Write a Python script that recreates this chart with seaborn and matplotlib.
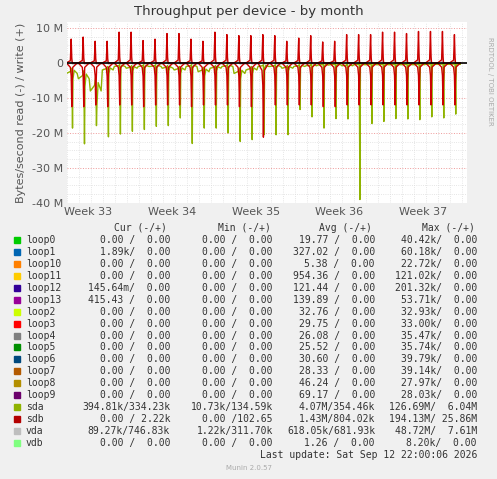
import numpy as np
import pandas as pd
import matplotlib
matplotlib.use('Agg')
import matplotlib.pyplot as plt
import seaborn as sns

# daily spike peaks (units: MB/s)
spike_days = [0.4, 1.4, 2.4, 3.4, 4.4, 5.4, 6.4, 7.4, 8.4, 9.4, 10.4, 11.4, 12.4, 13.4, 14.4, 15.4, 16.4,
              17.4, 18.4, 19.4, 20.4, 21.4, 22.4, 23.4, 24.4, 25.4, 26.4, 27.4, 28.4, 29.4, 30.4, 31.4, 32.4]
sdb_write = [6.8, 7.4, 6.2, 6.2, 8.8, 8.8, 6.4, 6.8, 8.4, 8.4, 6.8, 6.2, 8.8, 8.1, 7.8, 7.8, 8.1,
             7.8, 6.2, 7.1, 7.8, 6.0, 6.2, 8.1, 8.1, 8.1, 8.8, 8.8, 8.4, 9.0, 9.0, 9.0, 8.1]
sdb_read = [-12.5, -12.5, -12.0, -12.5, -12.0, -12.0, -12.5, -12.0, -12.0, -12.0, -12.5, -12.0, -12.0, -12.0, -12.5, -12.5, -21.2,
            -12.0, -12.0, -12.0, -12.0, -12.5, -12.5, -12.0, -12.0, -12.0, -12.0, -12.0, -12.0, -12.0, -12.0, -12.0, -12.0]
sda_read = [-18.6, -23.1, -17.9, -21.1, -20.3, -19.5, -19.0, -18.1, -17.9, -15.7, -23.0, -18.6, -18.6, -20.0, -22.4, -21.9, -20.5,
            -20.5, -20.5, -13.3, -15.4, -18.6, -15.9, -16.0, -39.0, -17.3, -16.7, -15.9, -16.0, -16.2, -15.4, -15.7, -14.6]
# sda baseline between spikes (per day, read path)
sda_base = [-3.0, -4.5, -8.0, -2.0, -1.0, -1.5, -1.0, -1.0, -1.5, -2.0, -1.0, -2.5, -1.5, -1.0, -3.0, -2.0, -1.0,
            -1.0, -1.5, -1.0, -0.8, -0.6, -0.5, -0.8, -0.5, -0.5, -0.5, -0.5, -0.5, -0.5, -0.4, -0.4, -0.4]
week_labels = ['Week 33', 'Week 34', 'Week 35', 'Week 36', 'Week 37']
week_pos = [1.75, 8.75, 15.75, 22.75, 29.75]

legend_rows = [
    ('loop0', '#00cc00', '0.00 /  0.00', '0.00 /  0.00', '19.77 /  0.00', '40.42k/  0.00'),
    ('loop1', '#0066b3', '1.89k/  0.00', '0.00 /  0.00', '327.02 /  0.00', '60.18k/  0.00'),
    ('loop10', '#ff8000', '0.00 /  0.00', '0.00 /  0.00', '5.38 /  0.00', '22.72k/  0.00'),
    ('loop11', '#ffcc00', '0.00 /  0.00', '0.00 /  0.00', '954.36 /  0.00', '121.02k/  0.00'),
    ('loop12', '#330099', '145.64m/  0.00', '0.00 /  0.00', '121.44 /  0.00', '201.32k/  0.00'),
    ('loop13', '#990099', '415.43 /  0.00', '0.00 /  0.00', '139.89 /  0.00', '53.71k/  0.00'),
    ('loop2', '#ccff00', '0.00 /  0.00', '0.00 /  0.00', '32.76 /  0.00', '32.93k/  0.00'),
    ('loop3', '#ff0000', '0.00 /  0.00', '0.00 /  0.00', '29.75 /  0.00', '33.00k/  0.00'),
    ('loop4', '#808080', '0.00 /  0.00', '0.00 /  0.00', '26.08 /  0.00', '35.47k/  0.00'),
    ('loop5', '#008f00', '0.00 /  0.00', '0.00 /  0.00', '25.52 /  0.00', '35.74k/  0.00'),
    ('loop6', '#00487d', '0.00 /  0.00', '0.00 /  0.00', '30.60 /  0.00', '39.79k/  0.00'),
    ('loop7', '#b35a00', '0.00 /  0.00', '0.00 /  0.00', '28.33 /  0.00', '39.14k/  0.00'),
    ('loop8', '#b38f00', '0.00 /  0.00', '0.00 /  0.00', '46.24 /  0.00', '27.97k/  0.00'),
    ('loop9', '#6b006b', '0.00 /  0.00', '0.00 /  0.00', '69.17 /  0.00', '28.03k/  0.00'),
    ('sda', '#8fb300', '394.81k/334.23k', '10.73k/134.59k', '4.07M/354.46k', '126.69M/  6.04M'),
    ('sdb', '#b30000', '0.00 / 2.22k', '0.00 /102.65', '1.43M/804.02k', '194.13M/ 25.86M'),
    ('vda', '#bebebe', '89.27k/746.83k', '1.22k/311.70k', '618.05k/681.93k', '48.72M/  7.61M'),
    ('vdb', '#80ff80', '0.00 /  0.00', '0.00 /  0.00', '1.26 /  0.00', '8.20k/  0.00'),
]

# build the line tables: baseline, spike, baseline for each day
rows = []
for i, d in enumerate(spike_days):
    b = sda_base[i]
    for dx, fw, fr in [(-0.45, 0, 0), (-0.12, 0.1, 0.1), (-0.05, 1, 0.3), (0.0, 0.2, 1),
                       (0.04, 0, 0.4), (0.08, 0, 0.1), (0.45, 0, 0)]:
        rows.append({'t': d + dx, 'series': 'sdb+', 'v': sdb_write[i] * fw * 1e6})
        rows.append({'t': d + dx, 'series': 'sdb-', 'v': sdb_read[i] * fr * 1e6})
        rows.append({'t': d + dx, 'series': 'vda', 'v': (sdb_write[i] * fw * 0.3 - 0.3) * 1e6})
    for dx, val in [(-0.45, b), (-0.1, b * 0.8), (0.0, b * 0.5), (0.06, sda_read[i]), (0.1, b * 1.5),
                    (0.2, b * 0.7), (0.45, b)]:
        rows.append({'t': d + dx, 'series': 'sda', 'v': val * 1e6})
df = pd.DataFrame(rows).sort_values('t')

sns.set_style('white')
plt.rcParams['font.family'] = ['DejaVu Sans']
fig = plt.figure(figsize=(4.97, 4.79), dpi=100, facecolor='#f0f0f0')
ax = fig.add_axes([67 / 497, 1 - 203 / 479, 400 / 497, 181 / 479])
ax.set_facecolor('white')

palette = {'sda': '#8fb300', 'sdb-': '#cc0000', 'sdb+': '#cc0000', 'vda': '#bebebe'}
for s in ['vda', 'sda', 'sdb-', 'sdb+']:
    sub = df[df['series'] == s]
    sns.lineplot(data=sub, x='t', y='v', ax=ax, color=palette[s], lw=1.0, estimator=None, sort=False)
ax.axhline(0, color='black', lw=1.2)

ax.set_xlim(0, 33.4)
ax.set_ylim(-40e6, 11.7e6)
ax.set_yticks([-40e6, -30e6, -20e6, -10e6, 0, 10e6])
ax.set_yticklabels(['-40 M', '-30 M', '-20 M', '-10 M', '0', '10 M'], fontsize=8, color='#555555')
ax.set_yticks(np.arange(-40e6, 11e6, 2.5e6), minor=True)
ax.set_xticks(week_pos)
ax.set_xticklabels(week_labels, fontsize=8, color='#555555')
ax.set_xticks(np.arange(0, 34, 1), minor=True)
ax.grid(which='minor', color='#dddddd', ls=':', lw=0.6)
ax.grid(which='major', axis='y', color='#ee9999', ls=':', lw=0.7)
ax.tick_params(length=0, pad=3)
ax.set_xlabel('')
ax.set_ylabel('Bytes/second read (-) / write (+)', fontsize=8, color='#555555')
for sp in ax.spines.values():
    sp.set_visible(False)

fig.text(0.5, 1 - 12 / 479, 'Throughput per device - by month', ha='center', va='center', fontsize=9.5, color='#333333')
fig.text(490 / 497, 0.83, 'RRDTOOL / TOBI OETIKER', rotation=270, ha='center', va='center', fontsize=5, color='#aaaaaa')

mono = 'DejaVu Sans Mono'
fs = 7
hy = 228
for xc, txt in [(140, 'Cur (-/+)'), (244, 'Min (-/+)'), (345, 'Avg (-/+)'), (448, 'Max (-/+)')]:
    fig.text(xc / 497, 1 - hy / 479, txt, ha='center', va='center', fontsize=fs, family=mono, color='#333333')
for i, (name, col, cur, mn, avg, mx) in enumerate(legend_rows):
    y = 1 - (240 + i * 11.94) / 479
    fig.patches.append(plt.Rectangle((14 / 497, y - 3 / 479), 6 / 497, 6 / 479, transform=fig.transFigure,
                                     color=col, figure=fig))
    fig.text(26 / 497, y, name, va='center', fontsize=fs, family=mono, color='#333333')
    for xr, txt in [(170, cur), (273, mn), (375, avg), (477, mx)]:
        fig.text(xr / 497, y, txt, ha='right', va='center', fontsize=fs, family=mono, color='#333333')
fig.text(477 / 497, 1 - 455 / 479, 'Last update: Sat Sep 12 22:00:06 2026', ha='right', va='center',
         fontsize=fs, family=mono, color='#333333')
fig.text(0.5, 1 - 468 / 479, 'Munin 2.0.57', ha='center', va='center', fontsize=5, color='#aaaaaa')

fig.savefig('out.png', dpi=100, facecolor='#f0f0f0')
